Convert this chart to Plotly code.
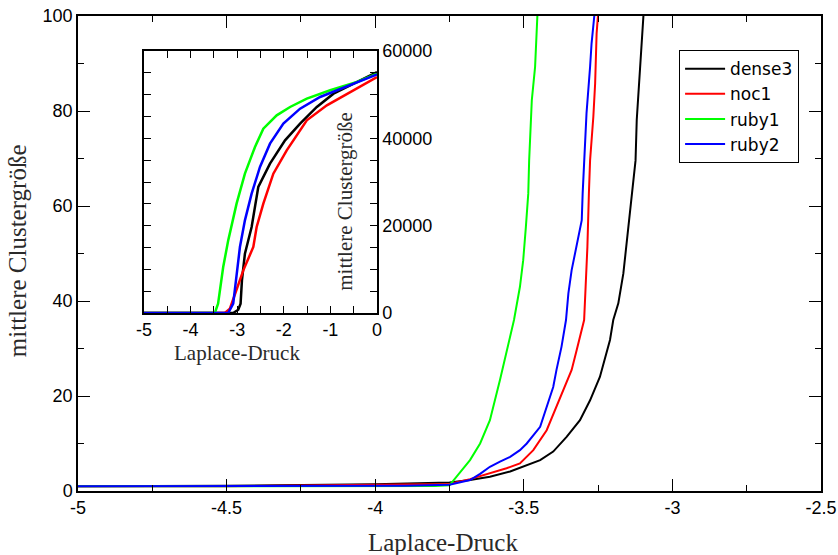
import plotly.graph_objects as go

# Mean cluster size vs. Laplace pressure, four samples
series_names = ["dense3", "noc1", "ruby1", "ruby2"]
series_colors = ["#000000", "#ff0000", "#00ff00", "#0000ff"]

dense3_x = [-5.0, -4.5, -4.0, -3.9, -3.75, -3.681, -3.614, -3.546, -3.479, -3.445, -3.401, -3.356,
            -3.311, -3.277, -3.244, -3.221, -3.210, -3.199, -3.182, -3.165, -3.154, -3.143, -3.132,
            -3.124, -3.120, -3.109, -3.103, -3.097]
dense3_y = [1.0, 1.1, 1.4, 1.6, 1.8, 2.3, 3.0, 4.1, 5.8, 6.5, 8.3, 11.4,
            14.9, 19.1, 24.0, 29.0, 31.8, 36.0, 39.5, 45.8, 52.1, 59.1, 64.0,
            69.6, 78.1, 89.3, 96.3, 100.5]

noc1_x = [-5.0, -4.5, -4.0, -3.9, -3.75, -3.681, -3.614, -3.558, -3.513, -3.468, -3.423, -3.390,
          -3.361, -3.339, -3.322, -3.297, -3.292, -3.286, -3.281, -3.277, -3.266, -3.260, -3.255,
          -3.250]
noc1_y = [1.0, 1.0, 1.3, 1.4, 1.5, 2.5, 3.7, 4.8, 5.8, 8.6, 12.8, 17.7,
          21.9, 25.5, 29.7, 36.0, 43.0, 51.4, 62.6, 69.6, 78.8, 85.8, 96.3,
          100.5]

ruby1_x = [-5.0, -4.5, -4.0, -3.8, -3.75, -3.715, -3.681, -3.647, -3.614, -3.580, -3.558, -3.533,
           -3.513, -3.502, -3.493, -3.485, -3.482, -3.473, -3.462, -3.457, -3.454]
ruby1_y = [1.0, 1.0, 1.0, 1.05, 1.2, 4.0, 6.5, 10.0, 14.9, 23.4, 29.0, 36.0,
           43.0, 48.6, 55.6, 62.6, 69.6, 82.3, 89.3, 96.3, 100.5]

ruby2_x = [-5.0, -4.5, -4.0, -3.9, -3.75, -3.715, -3.681, -3.647, -3.614, -3.580, -3.546, -3.513,
           -3.490, -3.445, -3.423, -3.401, -3.390, -3.373, -3.358, -3.350, -3.339, -3.322, -3.305,
           -3.302, -3.297, -3.289, -3.277, -3.272, -3.262]
ruby2_y = [1.0, 1.0, 1.05, 1.1, 1.3, 1.75, 2.3, 3.6, 5.1, 6.2, 7.2, 8.6,
           10.0, 13.5, 17.7, 21.9, 25.5, 30.4, 36.0, 41.6, 46.5, 51.4, 57.0,
           62.6, 68.2, 79.5, 89.3, 94.2, 100.5]

# Full pressure range (inset)
dense3_full_x = [-5.0, -3.085, -2.977, -2.927, -2.898, -2.834, -2.690, -2.547, -2.296, -1.973,
                 -1.650, -1.291, -0.933, -0.430, 0.0]
dense3_full_y = [0, 0, 760, 2140, 7480, 13590, 19700, 28860, 34200, 39540,
                 43360, 47180, 50230, 52900, 55190]

noc1_full_x = [-5.0, -3.264, -3.156, -3.049, -2.869, -2.654, -2.582, -2.439, -2.224, -1.937,
               -1.506, -1.076, -0.574, 0.0]
noc1_full_y = [0, 0, 990, 4430, 9770, 15115, 19700, 25040, 31910, 37250,
               44125, 47560, 50610, 54050]

ruby1_full_x = [-5.0, -3.479, -3.41, -3.372, -3.30, -3.192, -3.013, -2.834, -2.618, -2.439,
                -2.152, -1.865, -1.506, -1.004, -0.430, 0.0]
ruby1_full_y = [0, 0, 2140, 5190, 10535, 16640, 25040, 31910, 38020, 42215,
                45270, 47180, 49090, 51000, 52900, 54810]

ruby2_full_x = [-5.0, -3.192, -3.085, -3.027, -2.941, -2.834, -2.690, -2.511, -2.296, -2.009,
                -1.650, -1.220, -0.861, -0.430, 0.0]
ruby2_full_y = [0, 0, 2140, 7480, 15115, 21220, 27330, 33440, 38780, 43360,
                46800, 49470, 51000, 52900, 54660]

main_x_ticks = [-5, -4.5, -4, -3.5, -3, -2.5]
main_x_labels = ["-5", "-4.5", "-4", "-3.5", "-3", "-2.5"]
main_y_ticks = [0, 20, 40, 60, 80, 100]
inset_x_ticks = [-5, -4, -3, -2, -1, 0]
inset_x_labels = ["-5", "-4", "-3", "-2", "-1", "0"]
inset_y_ticks = [0, 20000, 40000, 60000]
inset_y_labels = ["0", "20000", "40000", "60000"]

x_title = "Laplace-Druck"
y_title = "mittlere Clustergröße"

main_data = [(dense3_x, dense3_y), (noc1_x, noc1_y), (ruby1_x, ruby1_y), (ruby2_x, ruby2_y)]
inset_data = [(dense3_full_x, dense3_full_y), (noc1_full_x, noc1_full_y),
              (ruby1_full_x, ruby1_full_y), (ruby2_full_x, ruby2_full_y)]

SANS = "Liberation Sans, Arial, sans-serif"
SERIF = "Liberation Serif, Times New Roman, serif"
TITLE_COLOR = "#2a2a2a"

fig = go.Figure()

for name, color, (xs, ys) in zip(series_names, series_colors, main_data):
    fig.add_trace(go.Scatter(x=xs, y=ys, mode="lines", name=name,
                             line=dict(color=color, width=2),
                             xaxis="x", yaxis="y"))

for name, color, (xs, ys) in zip(series_names, series_colors, inset_data):
    fig.add_trace(go.Scatter(x=xs, y=ys, mode="lines", name=name, showlegend=False,
                             line=dict(color=color, width=2.5),
                             xaxis="x2", yaxis="y2"))

axis_common = dict(showgrid=False, zeroline=False, showline=True, linecolor="black",
                   linewidth=1.5, mirror="allticks", ticks="inside", tickcolor="black",
                   tickwidth=1, automargin=False,
                   tickfont=dict(family=SANS, size=18, color="black"))

fig.update_layout(
    template="none",
    width=838, height=555,
    margin=dict(l=78, r=17, t=16, b=64, pad=0),
    paper_bgcolor="white", plot_bgcolor="white",
    showlegend=True,
    legend=dict(x=0.809, y=0.928, xanchor="left", yanchor="top",
                bordercolor="black", borderwidth=1, bgcolor="white",
                font=dict(family="DejaVu Sans, sans-serif", size=17, color="black"),
                tracegroupgap=0, itemwidth=40),
    xaxis=dict(range=[-5, -2.5], tickvals=main_x_ticks, ticktext=main_x_labels,
               ticklen=12, minor=dict(dtick=0.25, ticks="inside", ticklen=6, tickcolor="black"),
               domain=[0, 1], **axis_common),
    yaxis=dict(range=[0, 100], tickvals=main_y_ticks,
               ticklen=12, minor=dict(dtick=10, ticks="inside", ticklen=6, tickcolor="black"),
               domain=[0, 1], **axis_common),
    xaxis2=dict(range=[-5, 0], tickvals=inset_x_ticks, ticktext=inset_x_labels,
                ticklen=7, minor=dict(dtick=0.5, ticks="inside", ticklen=7, tickcolor="black"),
                domain=[0.0888, 0.4024], anchor="y2", **axis_common),
    yaxis2=dict(range=[0, 60000], tickvals=inset_y_ticks, ticktext=inset_y_labels,
                side="right",
                ticklen=7, minor=dict(dtick=5000, ticks="inside", ticklen=7, tickcolor="black"),
                domain=[0.3747, 0.9263], anchor="x2", **axis_common),
    annotations=[
        dict(text=x_title, xref="paper", yref="paper", x=0.491, y=-0.109,
             xanchor="center", yanchor="middle", showarrow=False,
             font=dict(family=SERIF, size=25, color=TITLE_COLOR)),
        dict(text=y_title, xref="paper", yref="paper", x=-0.082, y=0.505,
             xanchor="center", yanchor="middle", showarrow=False, textangle=-90,
             font=dict(family=SERIF, size=25, color=TITLE_COLOR)),
        dict(text=x_title, xref="paper", yref="paper", x=0.214, y=0.2905,
             xanchor="center", yanchor="middle", showarrow=False,
             font=dict(family=SERIF, size=21, color=TITLE_COLOR)),
        dict(text=y_title, xref="paper", yref="paper", x=0.3594, y=0.609,
             xanchor="center", yanchor="middle", showarrow=False, textangle=-90,
             font=dict(family=SERIF, size=21, color=TITLE_COLOR)),
    ],
)

fig.write_html("out.html")
